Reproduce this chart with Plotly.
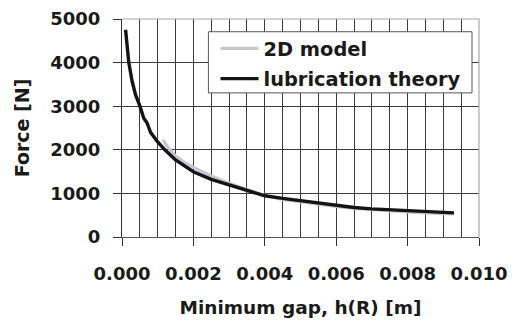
import plotly.graph_objects as go

# ---- data ----
lub_h = [0.0001, 0.000145, 0.00019, 0.000285, 0.00038, 0.0005, 0.00061, 0.0007, 0.0008,
         0.001, 0.0012, 0.0015, 0.0018, 0.002, 0.0025, 0.003, 0.0035, 0.004, 0.0045,
         0.005, 0.0055, 0.006, 0.0065, 0.007, 0.0075, 0.008, 0.0085, 0.009, 0.0093]
lub_F = [4754, 4333, 4002, 3566, 3260, 3007, 2724, 2620, 2400,
         2180, 2000, 1766, 1600, 1497, 1322, 1191, 1076, 945, 885,
         830, 770, 724, 678, 646, 623, 600, 577, 563, 554]

model_h = [0.00115, 0.0013, 0.0015, 0.00175, 0.002, 0.0025, 0.003, 0.0035, 0.004, 0.0045,
           0.005, 0.0055, 0.006, 0.0065, 0.007, 0.0075, 0.008, 0.0085, 0.009, 0.0093]
model_F = [2225, 2040, 1857, 1710, 1598, 1398, 1230, 1090, 950, 860,
           805, 745, 700, 655, 625, 600, 578, 555, 540, 532]

x_ticks = [0.000, 0.002, 0.004, 0.006, 0.008, 0.010]
x_tick_labels = ["0.000", "0.002", "0.004", "0.006", "0.008", "0.010"]
y_ticks = [0, 1000, 2000, 3000, 4000, 5000]
y_tick_labels = ["0", "1000", "2000", "3000", "4000", "5000"]

names = ["2D model", "lubrication theory"]
colors = ["#c3c7cf", "#141414"]

FONT = "DejaVu Sans"
TXT = "#1a1a1a"
GRID = "#3c3c3c"

fig = go.Figure()
fig.add_trace(go.Scatter(x=model_h, y=model_F, mode="lines", name=names[0],
                         legendgroup="a", line=dict(color=colors[0], width=3.2)))
fig.add_trace(go.Scatter(x=lub_h, y=lub_F, mode="lines", name=names[1],
                         legendgroup="b", line=dict(color=colors[1], width=3.4)))

fig.update_layout(
    width=516, height=324,
    margin=dict(l=121.5, r=37, t=19.3, b=87.2, autoexpand=False),
    paper_bgcolor="white", plot_bgcolor="white",
    font=dict(family=FONT, color=TXT, size=18),
    legend=dict(x=0.262, y=0.953, xanchor="left", yanchor="top",
                bgcolor="rgba(0,0,0,0)", borderwidth=0, itemwidth=38,
                tracegroupgap=2,
                font=dict(family=FONT, size=19.4, color=TXT, weight="bold")),
    showlegend=True,
)

fig.update_xaxes(
    range=[0, 0.010], tickmode="array", tickvals=x_ticks, ticktext=x_tick_labels,
    ticks="outside", ticklen=8, tickcolor="#333", tickwidth=1,
    showline=True, linecolor="#555", linewidth=1, automargin=False,
    showgrid=True, gridcolor=GRID, gridwidth=1, zeroline=False,
    minor=dict(dtick=0.0005, showgrid=True, gridcolor=GRID, gridwidth=1, ticks=""),
    tickfont=dict(family=FONT, size=18, color=TXT, weight="bold"),
    ticklabelstandoff=12,
    title=dict(text="Minimum gap, h(R) [m]", standoff=18,
               font=dict(family=FONT, size=18.5, color=TXT, weight="bold")),
)
fig.update_yaxes(
    range=[0, 5000], tickmode="array", tickvals=y_ticks, ticktext=y_tick_labels,
    ticks="outside", ticklen=8, tickcolor="#333", tickwidth=1,
    showline=True, linecolor="#333", linewidth=1, automargin=False,
    showgrid=True, gridcolor=GRID, gridwidth=1, zeroline=False,
    tickfont=dict(family=FONT, size=18, color=TXT, weight="bold"),
    ticklabelstandoff=9,
    title=dict(text="Force [N]", standoff=15,
               font=dict(family=FONT, size=19, color=TXT, weight="bold")),
)

# light grey top/right frame and the white legend box
fig.add_shape(type="path", path="M0,1 L1,1 L1,0", xref="paper", yref="paper",
              line=dict(color="#a8a8a8", width=1.2), layer="above")
fig.add_shape(type="rect", xref="paper", yref="paper",
              x0=0.242, x1=0.9804, y0=0.661, y1=0.9416,
              fillcolor="white", line=dict(color="#555", width=1), layer="above")

fig.write_html("out.html", config={"displayModeBar": False},
               post_script="document.body.style.margin='0';document.body.style.overflow='hidden';")
